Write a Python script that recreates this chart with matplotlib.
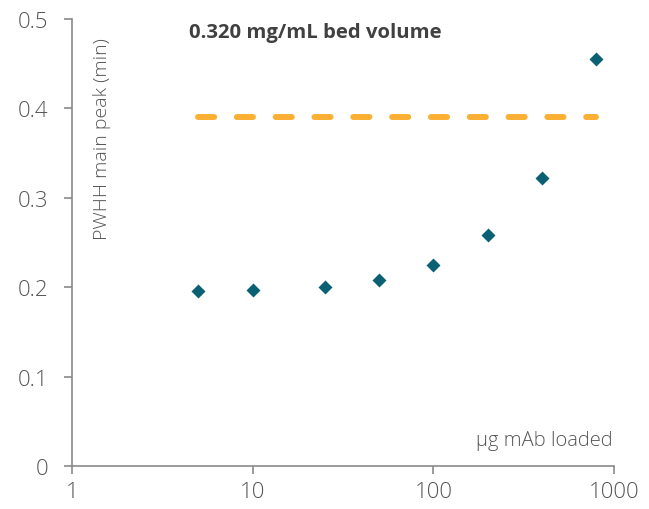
import matplotlib
matplotlib.use('Agg')
import matplotlib.pyplot as plt

# dados
ug_carregado = [5, 10, 25, 50, 100, 200, 400, 800]
pwhh = [0.196, 0.197, 0.200, 0.208, 0.225, 0.258, 0.322, 0.455]
limite_x = [5, 800]
limite_y = [0.39, 0.39]

x_ticks = [1, 10, 100, 1000]
x_labels = ['1', '10', '100', '1000']
y_ticks = [0, 0.1, 0.2, 0.3, 0.4, 0.5]
y_labels = ['0', '0.1', '0.2', '0.3', '0.4', '0.5']

plt.rcParams['font.family'] = ['Open Sans', 'DejaVu Sans']

fig = plt.figure(figsize=(6.49, 5.10), dpi=100)
ax = fig.add_axes([0.111, 0.084, 0.835, 0.877])

# linha tracejada laranja
ax.plot(limite_x, limite_y, color='#fbb034', lw=4.3, dashes=(2.7, 3.8),
        dash_capstyle='round', solid_capstyle='round')

# pontos
ax.plot(ug_carregado, pwhh, 'D', color='#0b6174', ms=7.5, mec='none')

ax.set_xscale('log')
ax.set_xlim(1, 1000)
ax.set_ylim(0, 0.5)
ax.set_xticks(x_ticks)
ax.set_xticklabels(x_labels)
ax.set_yticks(y_ticks)
ax.set_yticklabels(y_labels)
ax.minorticks_off()

for lado in ['top', 'right']:
    ax.spines[lado].set_visible(False)
for lado in ['left', 'bottom']:
    ax.spines[lado].set_color('#8a8a8a')
    ax.spines[lado].set_linewidth(1.2)

ax.tick_params(axis='both', colors='#8a8a8a', labelcolor='#555555',
               labelsize=16, length=6, width=1.2, direction='out')
ax.tick_params(axis='y', pad=11)
ax.tick_params(axis='x', pad=5)
for rotulo in ax.get_xticklabels() + ax.get_yticklabels():
    rotulo.set_fontweight('light')

# textos dentro do gráfico
ax.text(0.215, 0.97, '0.320 mg/mL bed volume', transform=ax.transAxes,
        fontsize=14.6, fontweight='bold', color='#404040', va='center', ha='left')
ax.text(0.055, 0.96, 'PWHH main peak (min)', transform=ax.transAxes,
        fontsize=14, fontweight='light', color='#555555', rotation=90,
        va='top', ha='center')
ax.text(0.997, 0.058, 'µg mAb loaded', transform=ax.transAxes,
        fontsize=14.5, fontweight='light', color='#555555', va='center', ha='right')

fig.savefig('out.png', dpi=100)
